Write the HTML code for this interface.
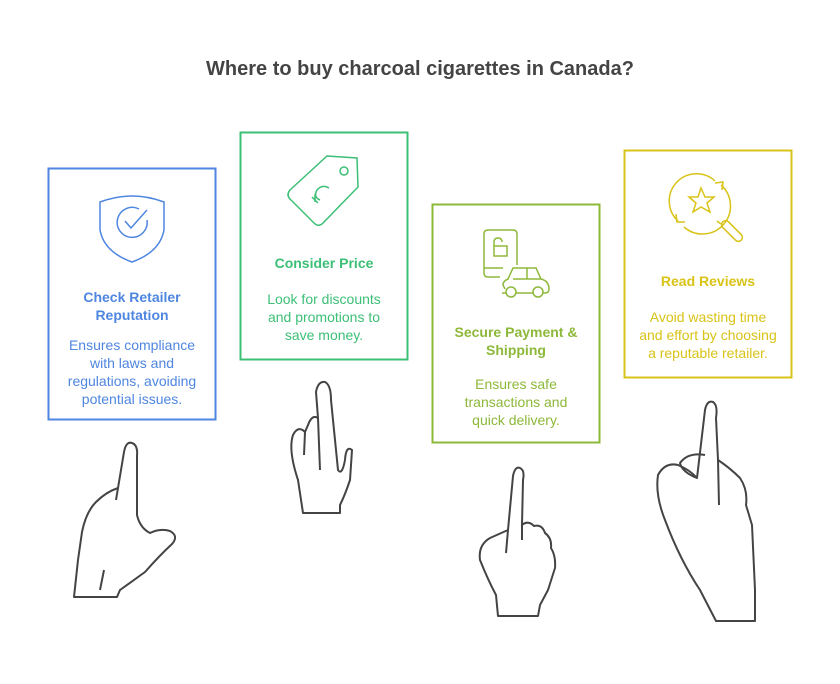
<!DOCTYPE html>
<html><head><meta charset="utf-8"><style>
body{margin:0;background:#fff;width:840px;height:684px;overflow:hidden}
svg{display:block}
text{font-family:"Liberation Sans",Arial,sans-serif}
</style></head><body>
<svg width="840" height="684" viewBox="0 0 840 684" xmlns="http://www.w3.org/2000/svg">
<text x="420" y="75" text-anchor="middle" font-size="20" font-weight="bold" fill="#444">Where to buy charcoal cigarettes in Canada?</text>

<rect x="48.5" y="168.5" width="167" height="251" fill="none" stroke="#4f86e0" stroke-width="2"/>
<g fill="none" stroke="#4f86e0" stroke-width="1.5">
<path d="M100,202 Q132,190 164,202 L164,230 Q160,252 132,262 Q104,252 100,230 Z"/>
<path d="M147,220 A15,15 0 1 1 139,209"/>
<path d="M125,221 L131,228 L147,210"/>
</g>
<g fill="#4f86e0" text-anchor="middle" font-size="14">
<text x="132" y="302" font-weight="bold">Check Retailer</text>
<text x="132" y="320" font-weight="bold">Reputation</text>
<text x="132" y="350">Ensures compliance</text>
<text x="132" y="368">with laws and</text>
<text x="132" y="386">regulations, avoiding</text>
<text x="132" y="404">potential issues.</text>
</g>

<rect x="240.5" y="132.5" width="167" height="227" fill="none" stroke="#3cbf76" stroke-width="2"/>
<g fill="none" stroke="#3cbf76" stroke-width="1.5">
<path d="M290,190 L327,156 L357,158 L358,187 L322,224 Q318,227 314,223 L290,199 Q286,195 290,190 Z"/>
<circle cx="344" cy="171" r="4"/>
<path d="M329,188 Q322,184 317,190 Q313,197 320,200"/>
<path d="M312,197 L318,203 M315,194 L315,202"/>
</g>
<g fill="#3cbf76" text-anchor="middle" font-size="14">
<text x="324" y="268" font-weight="bold">Consider Price</text>
<text x="324" y="304">Look for discounts</text>
<text x="324" y="322">and promotions to</text>
<text x="324" y="340">save money.</text>
</g>

<rect x="432.5" y="204.5" width="167" height="238" fill="none" stroke="#8db83a" stroke-width="2"/>
<g fill="none" stroke="#8db83a" stroke-width="1.5">
<path d="M500,277 L488,277 Q484,277 484,273 L484,234 Q484,230 488,230 L513,230 Q517,230 517,234 L517,265"/>
<path d="M484,268 L503,268"/>
<rect x="494" y="246" width="13" height="10"/>
<path d="M494,246 L494,242 Q494,238 498,238 Q502,238 502,242"/>
<path d="M505,289 L503,285 Q503,281 508,279 L513,268 L536,268 L541,279 Q549,281 549,289 Q549,293 545,293 L502,293"/>
<path d="M513,279 L541,279 M527,268 L527,279"/>
<circle cx="511" cy="292" r="5" fill="#fff"/>
<circle cx="538" cy="292" r="5" fill="#fff"/>
</g>
<g fill="#8db83a" text-anchor="middle" font-size="14">
<text x="516" y="337" font-weight="bold">Secure Payment &amp;</text>
<text x="516" y="355" font-weight="bold">Shipping</text>
<text x="516" y="389">Ensures safe</text>
<text x="516" y="407">transactions and</text>
<text x="516" y="425">quick delivery.</text>
</g>

<rect x="624.5" y="150.5" width="167" height="227" fill="none" stroke="#d9c318" stroke-width="2"/>
<g fill="none" stroke="#d9c318" stroke-width="1.5">
<path d="M678,221 A27,27 0 0 1 715,181"/>
<path d="M721,185 A27,27 0 0 1 684,227"/>
<path d="M715,183 L723,182 L722,190 M676,214 L677,222 L685,222"/>
<path d="M701,188 L705,197 L714,197 L707,203 L710,212 L701,207 L693,212 L696,203 L689,197 L698,197 Z"/>
<path d="M717,221 L721,224"/>
<rect x="719" y="227" width="26" height="8" rx="4" transform="rotate(45 732 231)"/>
</g>
<g fill="#d9c318" text-anchor="middle" font-size="14">
<text x="708" y="286" font-weight="bold">Read Reviews</text>
<text x="708" y="322">Avoid wasting time</text>
<text x="708" y="340">and effort by choosing</text>
<text x="708" y="358">a reputable retailer.</text>
</g>

<g fill="none" stroke="#444" stroke-width="2" stroke-linejoin="round">
<path d="M74,597 L78,560 L82,532 Q86,512 96,502 Q106,492 118,488 L124,452 Q126,441 132,443 Q138,445 137,456 L137,515 Q140,528 150,533 Q160,528 170,531 Q179,536 172,544 Q160,555 145,572 L120,590 L117,597 Z"/>
<path d="M118,488 L116,500 M100,590 L104,570"/>
<path d="M303,513 L298,480 Q288,450 293,435 Q298,425 305,432 L308,425 Q312,414 318,418 L316,392 Q318,381 325,382 Q331,385 331,400 L338,470 Q342,476 345,460 Q346,445 352,450 L350,480 Q345,495 340,505 L340,513 Z"/>
<path d="M318,418 L320,470 M305,432 L304,455"/>
<path d="M498,616 L496,595 Q488,580 480,560 Q478,545 490,538 L508,530 L513,476 Q515,466 520,468 Q525,470 523,480 L522,525 Q528,520 534,526 Q542,524 545,533 Q552,538 551,548 Q556,556 555,568 L548,590 L540,605 L538,616 Z"/>
<path d="M508,530 L506,553 M522,525 L522,540"/>
<path d="M716,621 L700,590 Q680,560 665,520 Q655,495 658,475 Q665,462 678,465 Q690,470 697,478 L705,410 Q707,400 713,402 Q718,405 716,418 L718,460 Q730,468 740,478 Q748,490 746,505 L752,525 L755,590 L755,621 Z"/>
<path d="M697,478 Q682,472 680,463 Q688,452 705,455 M718,460 L719,505"/>
</g>
</svg>
</body></html>
